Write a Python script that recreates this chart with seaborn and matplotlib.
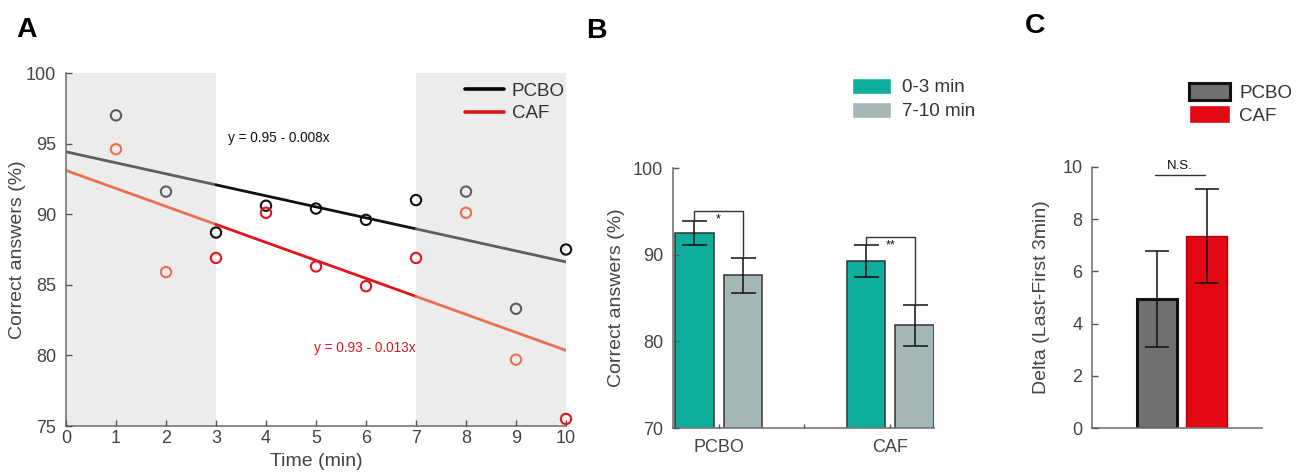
import numpy as np
import pandas as pd
import seaborn as sns
from matplotlib import pyplot as plt
from matplotlib.lines import Line2D
from matplotlib.patches import Patch

sns.set_theme(style='white')
plt.rcParams['font.family'] = ['Liberation Sans', 'DejaVu Sans']
plt.rcParams['axes.axisbelow'] = False
plt.rcParams['text.color'] = '#333333'
plt.rcParams['axes.labelcolor'] = '#444444'
plt.rcParams['xtick.color'] = '#555555'
plt.rcParams['ytick.color'] = '#555555'
plt.rcParams['xtick.labelcolor'] = '#444444'
plt.rcParams['ytick.labelcolor'] = '#444444'

# panel A: correct answers per minute
time_min = [1, 2, 3, 4, 5, 6, 7, 8, 9, 10]
pcbo_pct = [97.0, 91.6, 88.7, 90.6, 90.4, 89.6, 91.0, 91.6, 83.3, 87.5]
caf_pct = [94.6, 85.9, 86.9, 90.1, 86.3, 84.9, 86.9, 90.1, 79.7, 75.5]

# panel B: first 3 min vs last 3 min
groups = ['PCBO', 'CAF']
periods = ['0-3 min', '7-10 min']
mean_b = {'0-3 min': [92.5, 89.3], '7-10 min': [87.6, 81.85]}
err_b = {'0-3 min': [1.4, 1.85], '7-10 min': [2.0, 2.4]}

# panel C: delta
delta_mean = [4.95, 7.34]
delta_err = [1.84, 1.8]

BLACK_A, GREY_A = '#111111', '#5e5e5e'
RED_A, SALMON_A = '#e3141b', '#ea7050'
TEAL, GREYBLUE = '#0fad9c', '#a4b8b8'
BARGREY, BARRED = '#707070', '#e30613'

W, H = 1305, 473
fig = plt.figure(figsize=(W / 100, H / 100), dpi=100)


def px_axes(left, top, right, bottom):
    return fig.add_axes([left / W, 1 - bottom / H, (right - left) / W, (bottom - top) / H])


def style_axes(ax):
    sns.despine(ax=ax)
    for s in ['left', 'bottom']:
        ax.spines[s].set_color('#777777')
        ax.spines[s].set_linewidth(1.2)
    ax.tick_params(direction='in', length=4, width=1, labelsize=13, bottom=True, left=True)
    ax.tick_params(axis='y', pad=7)
    ax.tick_params(axis='x', pad=3)


# ---------- A ----------
axA = px_axes(66, 73, 566, 426)
axA.axvspan(0, 3, color='#ececec', lw=0, zorder=0)
axA.axvspan(7, 10, color='#ececec', lw=0, zorder=0)

t = np.array(time_min)
segs = [(0, 3), (3, 7), (7, 10)]
for vals, dark, light in [(pcbo_pct, BLACK_A, GREY_A), (caf_pct, RED_A, SALMON_A)]:
    slope, icpt = np.polyfit(t, vals, 1)
    for i, (a, b) in enumerate(segs):
        c = dark if i == 1 else light
        xs = np.array([a, b])
        sns.lineplot(x=xs, y=icpt + slope * xs, color=c, lw=2, ax=axA, zorder=2)
    v = np.array(vals)
    mid = ((t >= 3) & (t <= 7)) | (t == 10)
    for mask, c in [(mid, dark), (~mid, light)]:
        sns.scatterplot(x=t[mask], y=v[mask], s=55, color=c, facecolor='none',
                        edgecolor=c, linewidth=1.5, ax=axA, zorder=3, clip_on=False)

axA.text(3.25, 95.4, 'y = 0.95 - 0.008x', fontsize=9.8, color='#111111', va='center')
axA.text(4.95, 80.55, 'y = 0.93 - 0.013x', fontsize=9.8, color=RED_A, va='center')
axA.set_xlim(0, 10)
axA.set_ylim(75, 100)
axA.set_xticks(range(0, 11))
axA.set_yticks(range(75, 101, 5))
axA.set_xlabel('Time (min)', fontsize=14, labelpad=4)
axA.set_ylabel('Correct answers (%)', fontsize=14, labelpad=0)
style_axes(axA)
axA.legend(handles=[Line2D([], [], color='black', lw=2.6, label='PCBO'),
                    Line2D([], [], color=RED_A, lw=2.6, label='CAF')],
           loc='upper right', bbox_to_anchor=(1.02, 1.005), frameon=False, fontsize=13.5,
           handlelength=2.1, handletextpad=0.4, labelspacing=0.3, borderaxespad=0.2)

# ---------- B ----------
axB = px_axes(673, 168, 934, 428)
dfB = pd.DataFrame([(g, p, mean_b[p][i]) for p in periods for i, g in enumerate(groups)],
                   columns=['group', 'period', 'value'])
sns.barplot(data=dfB, x='group', y='value', hue='period', order=groups, hue_order=periods,
            palette=[TEAL, GREYBLUE], saturation=1, width=0.564, gap=0.2,
            edgecolor='#333333', linewidth=1.1, errorbar=None, legend=False, ax=axB, zorder=2)
centers = {}
for p, cont in zip(periods, axB.containers):
    xs = [r.get_x() + r.get_width() / 2 for r in cont]
    centers[p] = xs
    axB.errorbar(xs, mean_b[p], yerr=err_b[p], fmt='none', ecolor='#111111',
                 elinewidth=1.1, capsize=9, capthick=1.1, zorder=4)
# significance brackets
for i, (lvl, star) in enumerate([(95.0, '*'), (92.0, '**')]):
    x1, x2 = centers['0-3 min'][i], centers['7-10 min'][i]
    y1 = mean_b['0-3 min'][i] + err_b['0-3 min'][i]
    y2 = mean_b['7-10 min'][i] + err_b['7-10 min'][i]
    axB.plot([x1, x1, x2, x2], [y1, lvl, lvl, y2], color='#333333', lw=1, zorder=4)
    axB.text((x1 + x2) / 2, lvl - 0.25, star, ha='center', va='top', fontsize=9, color='#111111')
axB.set_xlim(-0.266, 1.2545)
axB.set_ylim(70, 100)
axB.set_yticks([70, 80, 90, 100])
axB.set_xticks([0, 1])
axB.set_xticks([0.5], minor=True)
axB.set_xlabel('')
axB.set_ylabel('Correct answers (%)', fontsize=14, labelpad=6)
style_axes(axB)
axB.tick_params(axis='x', which='both', direction='in', length=3, pad=8, bottom=True)
fig.legend(handles=[Patch(facecolor=TEAL, label='0-3 min'),
                    Patch(facecolor=GREYBLUE, label='7-10 min')],
           loc='upper left', bbox_to_anchor=(846 / W, 1 - 72 / H), frameon=False, fontsize=13.5,
           handlelength=2.1, handleheight=0.95, handletextpad=0.6, labelspacing=0.3,
           borderaxespad=0, borderpad=0.3)

# ---------- C ----------
axC = px_axes(1092, 167, 1262, 428)
dfC = pd.DataFrame({'group': groups, 'delta': delta_mean})
sns.barplot(data=dfC, x='group', y='delta', hue='group', palette=[BARGREY, BARRED],
            saturation=1, width=0.81, errorbar=None, legend=False, ax=axC, zorder=2)
edge_styles = [('#111111', 2.2), ('#b0050f', 1.0)]
for r, (ec, lw) in zip(axC.patches, edge_styles):
    r.set_edgecolor(ec)
    r.set_linewidth(lw)
xsC = [r.get_x() + r.get_width() / 2 for r in axC.patches]
axC.errorbar(xsC, delta_mean, yerr=delta_err, fmt='none', ecolor='#111111',
             elinewidth=1.1, capsize=8.5, capthick=1.1, zorder=4)
axC.plot([xsC[0] - 0.05, xsC[1] - 0.03], [9.7, 9.7], color='#333333', lw=1)
axC.text((xsC[0] + xsC[1]) / 2 - 0.04, 9.8, 'N.S.', ha='center', va='bottom', fontsize=9.5,
         color='#111111')
axC.set_xlim(-1.313, 2.12)
axC.set_ylim(0, 10)
axC.set_yticks(range(0, 11, 2))
axC.set_xticks([])
axC.set_xlabel('')
axC.set_ylabel('Delta (Last-First 3min)', fontsize=14, labelpad=9)
style_axes(axC)
fig.legend(handles=[Patch(facecolor=BARGREY, edgecolor='#111111', lw=2.2, label='PCBO'),
                    Patch(facecolor=BARRED, label='CAF')],
           loc='upper left', bbox_to_anchor=(1183 / W, 1 - 77 / H), frameon=False, fontsize=13.5,
           handlelength=2.2, handleheight=1.05, handletextpad=0.5, labelspacing=0.2,
           borderaxespad=0, borderpad=0.3)

# panel letters
for lbl, x, y in [('A', 16, 37), ('B', 586, 38), ('C', 1025, 33)]:
    fig.text(x / W, 1 - y / H, lbl, fontsize=20.5, fontweight='bold', color='black')

fig.savefig('out.png', dpi=100)
